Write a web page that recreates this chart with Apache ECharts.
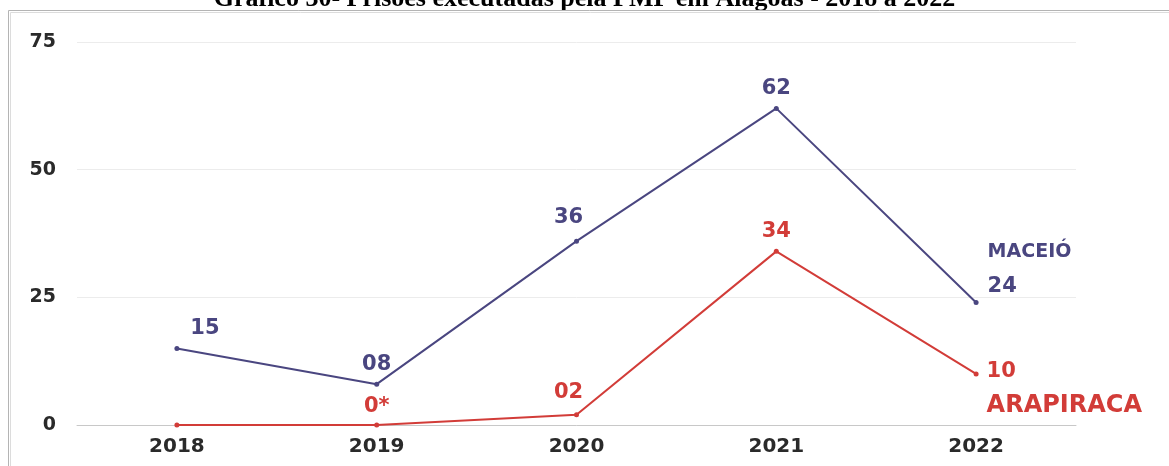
<!DOCTYPE html>
<html>
<head>
<meta charset="utf-8">
<script src="https://cdn.jsdelivr.net/npm/echarts@6/dist/echarts.min.js"></script>
<style>
  html, body { margin: 0; padding: 0; background: #fff; }
  #container { width: 1169px; height: 466px; }
</style>
</head>
<body>
<div id="container"></div>
<script>
var years = ['2018', '2019', '2020', '2021', '2022'];
var maceio = [15, 8, 36, 62, 24];
var arapiraca = [0, 0, 2, 34, 10];
var maceioLabels = ['15', '08', '36', '62', '24'];
var arapiracaLabels = ['', '0*', '02', '34', '10'];
var yTicks = [0, 25, 50, 75];

var dom = document.getElementById('container');
var myChart = echarts.init(dom);

var blue = '#4a4680';
var red = '#d23c38';
var labelFont = 'DejaVu Sans';

// label placement per point (style only)
var maceioPos = [
    {position: 'top', offset: [28, -2]},
    {position: 'top', offset: [0, -2]},
    {position: 'top', offset: [-8, -6]},
    {position: 'top', offset: [0, -2]},
    {position: 'right', offset: [2, -16]}
];
var arapiracaPos = [
    {position: 'top', offset: [0, 0]},
    {position: 'top', offset: [0, 0]},
    {position: 'top', offset: [-8, -4]},
    {position: 'top', offset: [0, -2]},
    {position: 'right', offset: [4, -2]}
];

function buildData(values, labels, pos, color, lastName, nameFirst) {
    return values.map(function (v, i) {
        var lab = {
            show: labels[i] !== '',
            position: pos[i].position,
            offset: pos[i].offset,
            formatter: labels[i],
            color: color,
            fontFamily: labelFont,
            fontWeight: 'bold',
            fontSize: 21
        };
        if (i === values.length - 1) {
            lab.formatter = nameFirst ? '{n|' + lastName + '}\n{v|' + labels[i] + '}'
                                      : '{v|' + labels[i] + '}\n{n|' + lastName + '}';
            lab.rich = {
                v: {color: color, fontFamily: labelFont, fontWeight: 'bold', fontSize: 21, lineHeight: 34, align: 'left'},
                n: {color: color, fontFamily: labelFont, fontWeight: 'bold', fontSize: nameFirst ? 19 : 24, lineHeight: 34, align: 'left'}
            };
            lab.offset = nameFirst ? [4, -33] : [3, 15];
        }
        return {value: v, label: lab};
    });
}

option = {
    animation: false,
    backgroundColor: '#ffffff',
    title: {
        text: 'Gráfico 30- Prisões executadas pela PMP em Alagoas - 2018 a 2022',
        left: 'center',
        top: -19,
        textStyle: {
            fontFamily: 'Liberation Serif',
            fontWeight: 'bold',
            fontSize: 26,
            color: '#000'
        }
    },
    graphic: [
        {type: 'rect', shape: {x: 0, y: 10, width: 1169, height: 3}, style: {fill: '#ffffff'}, silent: true, z: 99},
        {type: 'rect', shape: {x: 8.5, y: 10.5, width: 1200, height: 500}, style: {fill: 'none', stroke: '#b4b4b4', lineWidth: 1}, silent: true, z: 100},
        {type: 'rect', shape: {x: 10.5, y: 12.5, width: 1200, height: 500}, style: {fill: 'none', stroke: '#dcdcdc', lineWidth: 1}, silent: true, z: 100}
    ],
    grid: {
        left: 77,
        right: 93,
        top: 42,
        bottom: 41
    },
    xAxis: {
        type: 'category',
        data: years,
        boundaryGap: true,
        axisLine: {show: true, lineStyle: {color: '#c8c8c8', width: 1}},
        axisTick: {show: false},
        axisLabel: {
            color: '#2a2a2a',
            fontFamily: labelFont,
            fontWeight: 'bold',
            fontSize: 20,
            margin: 12
        }
    },
    yAxis: {
        type: 'value',
        min: 0,
        max: 75,
        interval: 25,
        axisLine: {show: false},
        axisTick: {show: false},
        splitLine: {lineStyle: {color: '#ececec', width: 1}},
        axisLabel: {
            color: '#2a2a2a',
            fontFamily: labelFont,
            fontWeight: 'bold',
            fontSize: 19,
            margin: 21,
            formatter: function (v) { return yTicks.indexOf(v) >= 0 ? String(v) : ''; }
        }
    },
    series: [
        {
            name: 'MACEIÓ',
            type: 'line',
            data: buildData(maceio, maceioLabels, maceioPos, blue, 'MACEIÓ', true),
            symbol: 'circle',
            symbolSize: 5,
            itemStyle: {color: blue},
            lineStyle: {color: blue, width: 2}
        },
        {
            name: 'ARAPIRACA',
            type: 'line',
            data: buildData(arapiraca, arapiracaLabels, arapiracaPos, red, 'ARAPIRACA', false),
            symbol: 'circle',
            symbolSize: 5,
            itemStyle: {color: red},
            lineStyle: {color: red, width: 2}
        }
    ]
};

myChart.setOption(option, true);
</script>
</body>
</html>
